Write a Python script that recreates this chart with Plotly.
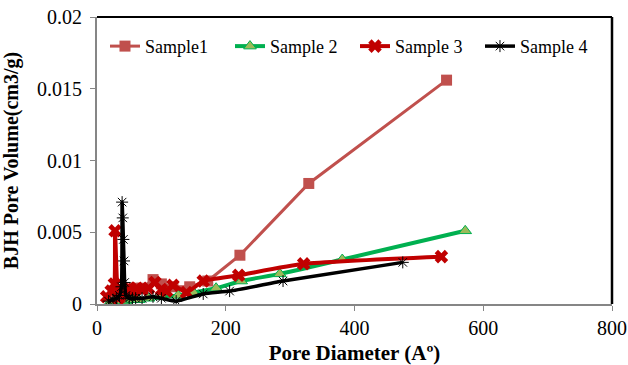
import plotly.graph_objects as go

# Sample 1
s1_x = [22, 28, 35, 42, 50, 60, 70, 87, 100, 118, 144, 172, 222, 329, 543]
s1_y = [0.0003, 0.0005, 0.0008, 0.0009, 0.0010, 0.0011, 0.0011, 0.0017, 0.0014, 0.0012, 0.0012, 0.0016, 0.0034, 0.0084, 0.0156]

# Sample 2
s2_x = [20, 25, 30, 35, 40, 45, 55, 65, 80, 100, 126, 150, 185, 224, 284, 381, 572]
s2_y = [0.0001, 0.0001, 0.0001, 0.0002, 0.0002, 0.0002, 0.0003, 0.0003, 0.0004, 0.0005, 0.0006, 0.0008, 0.0011, 0.0016, 0.0021, 0.0031, 0.0051]

# Sample 3
s3_x = [15, 22, 27, 28, 33, 36, 40, 45, 50, 55, 62, 70, 80, 90, 100, 108, 118, 139, 165, 220, 321, 535]
s3_y = [0.0005, 0.0009, 0.0014, 0.0051, 0.0004, 0.0006, 0.0009, 0.0010, 0.0011, 0.0009, 0.0011, 0.0010, 0.0011, 0.0015, 0.0010, 0.0009, 0.0013, 0.0008, 0.0016, 0.0020, 0.0028, 0.0033]

# Sample 4
s4_x = [18, 25, 30, 35, 38, 39, 40, 41, 42, 43, 45, 50, 55, 60, 70, 87, 100, 123, 165, 206, 289, 475]
s4_y = [0.0002, 0.0003, 0.0004, 0.0006, 0.0012, 0.0071, 0.0060, 0.0045, 0.0030, 0.0015, 0.0006, 0.0004, 0.0004, 0.0004, 0.0004, 0.0005, 0.0004, 0.0002, 0.0007, 0.0009, 0.0016, 0.0029]

x_ticks = [0, 200, 400, 600, 800]
y_ticks = [0, 0.005, 0.01, 0.015, 0.02]
y_tick_text = ["0", "0.005", "0.01", "0.015", "0.02"]

FONT = "Liberation Serif"

fig = go.Figure()
fig.add_trace(go.Scatter(
    x=s1_x, y=s1_y, name="Sample1", mode="lines+markers",
    line=dict(color="#C0504D", width=3),
    marker=dict(symbol="square", size=11, color="#C0504D")))
fig.add_trace(go.Scatter(
    x=s2_x, y=s2_y, name="Sample 2", mode="lines+markers",
    line=dict(color="#00B050", width=4, shape="spline", smoothing=0.6),
    marker=dict(symbol="triangle-up", size=11, color="#9BBB59",
                line=dict(color="#00B050", width=1))))
fig.add_trace(go.Scatter(
    x=s3_x, y=s3_y, name="Sample 3", mode="lines+markers",
    line=dict(color="#C00000", width=4, shape="spline", smoothing=0.5),
    marker=dict(symbol="x", size=12, color="#C00000")))
fig.add_trace(go.Scatter(
    x=s4_x, y=s4_y, name="Sample 4", mode="lines+markers",
    line=dict(color="#000000", width=3.5, shape="spline", smoothing=0.5),
    marker=dict(symbol="asterisk-open", size=10, color="#000000",
                line=dict(color="#000000", width=1))))

fig.update_layout(
    width=628, height=365,
    margin=dict(l=97, r=16, t=17, b=61),
    paper_bgcolor="white", plot_bgcolor="white",
    font=dict(family=FONT, size=18, color="black"),
    showlegend=True,
    legend=dict(orientation="h", x=0.0155, y=0.962, xanchor="left", yanchor="top",
                bgcolor="rgba(0,0,0,0)", font=dict(family=FONT, size=18),
                itemwidth=30, tracegroupgap=0, entrywidth=80),
    xaxis=dict(range=[0, 800], tickvals=x_ticks, ticktext=[str(v) for v in x_ticks],
               showgrid=False, zeroline=False, showline=True, linecolor="#868686",
               linewidth=2, ticks="outside", tickcolor="#868686", ticklen=5,
               automargin=False,
               tickfont=dict(family=FONT, size=20),
               title=dict(text="<b>Pore Diameter (Aº)</b>", font=dict(family=FONT, size=21),
                          standoff=10)),
    yaxis=dict(range=[0, 0.02], tickvals=y_ticks, ticktext=y_tick_text,
               showgrid=False, zeroline=False, showline=True, linecolor="#868686",
               linewidth=2, ticks="outside", tickcolor="#868686", ticklen=5,
               automargin=False, ticklabelstandoff=4,
               tickfont=dict(family=FONT, size=20),
               title=dict(text="<b>BJH Pore Volume(cm3/g)</b>", font=dict(family=FONT, size=20),
                          standoff=14)),
)
fig.add_shape(type="line", xref="paper", yref="paper", x0=0, x1=1, y0=1, y1=1,
              line=dict(color="black", width=2))
fig.add_shape(type="line", xref="paper", yref="paper", x0=1, x1=1, y0=0, y1=1,
              line=dict(color="black", width=2.5))

fig.write_html("out.html", config={"displayModeBar": False},
               post_script="document.body.style.margin='0';")
